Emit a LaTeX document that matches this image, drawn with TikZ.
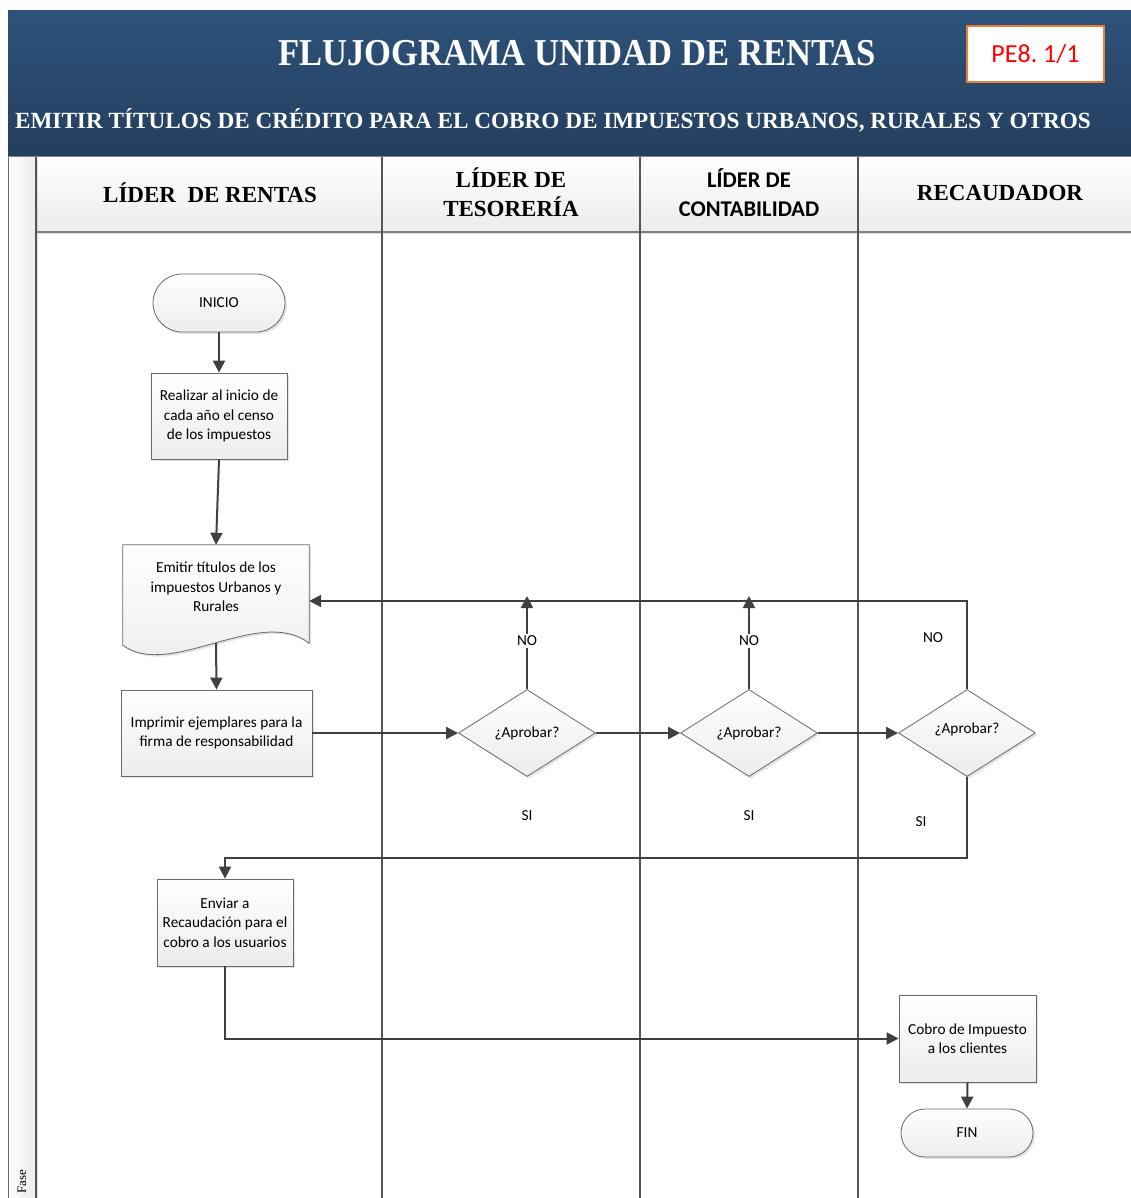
\documentclass[tikz,border=0pt]{standalone}
\usepackage{fontspec}
\setmainfont{Carlito}
\newfontfamily\serifhd{Liberation Serif}
\newfontfamily\titlefont[FakeStretch=0.91]{Liberation Serif}
\usetikzlibrary{shapes.geometric,shapes.misc,arrows.meta,calc,shadows}
\frenchspacing

\definecolor{bandtop}{HTML}{2E527A}
\definecolor{bandbot}{HTML}{233F5E}
\definecolor{lineclr}{HTML}{404040}
\definecolor{boxline}{HTML}{6A6A6A}
\definecolor{boxbot}{HTML}{ECECEC}
\definecolor{lanegray}{HTML}{555555}
\definecolor{tagorange}{HTML}{ED7D31}

\tikzset{
  shade/.style={drop shadow={shadow xshift=2pt,shadow yshift=-2pt,opacity=0.22}},
  proc/.style={rectangle, draw=boxline, line width=0.8pt, top color=white, bottom color=boxbot,
    shade, align=center, inner sep=2pt, font=\fontsize{15.3}{19.5}\selectfont},
  term/.style={rounded rectangle, draw=boxline, line width=0.8pt, top color=white, bottom color=boxbot,
    shade, align=center, inner sep=2pt, font=\fontsize{15.3}{19.5}\selectfont},
  dec/.style={diamond, draw=boxline, line width=0.8pt, top color=white, bottom color=boxbot,
    shade, inner sep=0pt, minimum width=137pt, minimum height=87pt, font=\fontsize{15.3}{19.5}\selectfont},
  conn/.style={draw=lineclr, line width=2pt, -{Triangle[length=12pt,width=12pt]}},
  lbl/.style={font=\fontsize{15.3}{19.5}\selectfont, fill=white, inner sep=1.5pt},
  lanehd/.style={font=\serifhd\bfseries\fontsize{23}{29}\selectfont, align=center},
  laneline/.style={draw=lanegray, line width=1.3pt}
}

\begin{document}
\begin{tikzpicture}[x=1pt,y=-1pt]
\useasboundingbox (0,0) rectangle (1131,1198);
\fill[white] (0,0) rectangle (1131,1198);

% title band
\shade[top color=bandtop, bottom color=bandbot] (8,11) rectangle (1131,157);
\node[text=white, font=\titlefont\bfseries\fontsize{38}{40}\selectfont] (title) at (577,53) {FLUJOGRAMA UNIDAD DE RENTAS};
\node[draw=tagorange, line width=2pt, fill=white, minimum width=137pt, minimum height=56pt,
      text=red, font=\fontsize{26}{28}\selectfont] (tag) at (1035.5,54.5) {PE8. 1/1};
\node[text=white, font=\serifhd\bfseries\fontsize{23.2}{26}\selectfont] (subtitle) at (553,120)
  {EMITIR TÍTULOS DE CRÉDITO PARA EL COBRO DE IMPUESTOS URBANOS, RURALES Y OTROS};

% swimlane frame
\shade[top color=white, bottom color=boxbot] (36,157) rectangle (1131,232);
\shade[left color=white, right color=boxbot] (8,157) rectangle (36,1198);
\draw[draw=boxline, line width=0.8pt] (8,157) -- (8,1198);
\draw[draw=gray, line width=2pt] (36,232) -- (1131,232);
\draw[draw=gray, line width=1pt] (8,157) -- (1131,157);
\foreach \lx in {36,382,640,858} \draw[laneline] (\lx,157) -- (\lx,1198);
\node[rotate=90, font=\serifhd\fontsize{13}{15}\selectfont] (fase) at (22,1182) {Fase};

\node[lanehd] (laneA) at (210,193) {LÍDER\ \ DE RENTAS};
\node[lanehd] (laneB) at (511,192) {LÍDER DE\\TESORERÍA};
\node[font=\bfseries\fontsize{22.5}{28.5}\selectfont, align=center] (laneC) at (749,192.5) {LÍDER DE\\CONTABILIDAD};
\node[lanehd] (laneD) at (1000,193) {RECAUDADOR};

% flow nodes
\node[term, minimum width=136pt, minimum height=58pt] (inicio) at (219,303) {INICIO};
\node[proc, minimum width=136pt, minimum height=86pt] (censo) at (219,416)
  {Realizar al inicio de\\cada año el censo\\de los impuestos};

% document shape: node holds the anchors, outline drawn from them
\node[minimum width=186pt, minimum height=98pt, inner sep=0pt] (doc) at (216,594) {};
\path[draw=boxline, line width=0.8pt, top color=white, bottom color=boxbot, shade]
  (doc.north west) -- (doc.north east) -- (doc.south east)
  .. controls (260,605) and (170,680) .. ($(doc.south west)+(0,2)$) -- cycle;
\node[align=center, font=\fontsize{15.3}{19.5}\selectfont] (doctext) at (216,587)
  {Emitir títulos de los\\impuestos Urbanos y\\Rurales};

\node[proc, minimum width=191pt, minimum height=86pt] (imprimir) at (216.5,733)
  {Imprimir ejemplares para la\\firma de responsabilidad};
\node[dec] (d1) at (527,733) {¿Aprobar?};
\node[dec] (d2) at (749,733) {¿Aprobar?};
\node[dec] (d3) at (967,733) {\raisebox{10pt}{¿Aprobar?}};
\node[proc, minimum width=136pt, minimum height=87pt] (enviar) at (225,922.5)
  {Enviar a\\Recaudación para el\\cobro a los usuarios};
\node[proc, minimum width=137pt, minimum height=87pt] (cobro) at (967.5,1038.5)
  {Cobro de Impuesto\\a los clientes};
\node[term, minimum width=136pt, minimum height=48pt] (fin) at (967,1133) {FIN};

% helper points
\coordinate (noA) at (527,596);
\coordinate (noB) at (749,596);
\coordinate (siRow) at (600,858);

% connectors
\draw[conn] (inicio.south) -- (censo.north);
\draw[conn] (censo.south) -- (doc.north);
\draw[conn] (doc.south) -- (imprimir.north);
\draw[conn] (imprimir.east) -- (d1.west);
\draw[conn] (d1.east) -- (d2.west);
\draw[conn] (d2.east) -- (d3.west);
\draw[conn] (d1.north) -- (noA);
\draw[conn] (d2.north) -- (noB);
\draw[conn] (d3.north) |- ($(doc.east)+(0,7)$);
\draw[conn] (d3.south) |- (siRow) -| (enviar.north);
\draw[conn] (enviar.south) |- (cobro.west);
\draw[conn] (cobro.south) -- (fin.north);

% branch labels
\node[lbl] (noLa) at (527,641) {NO};
\node[lbl] (noLb) at (749,641) {NO};
\node[lbl] (noLc) at (933,638) {NO};
\node[lbl] (siLa) at (527,816) {SI};
\node[lbl] (siLb) at (749,816) {SI};
\node[lbl] (siLc) at (921,822) {SI};
\end{tikzpicture}
\end{document}
